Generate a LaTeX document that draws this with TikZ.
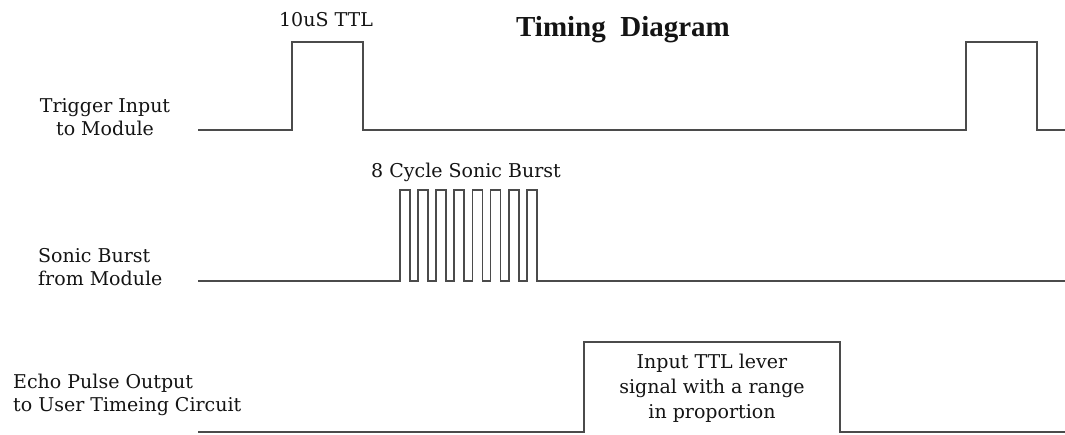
\documentclass[tikz,border=0pt]{standalone}
\usepackage{fontspec}
\setmainfont{DejaVu Serif}
\newfontfamily\titlefont{Liberation Serif}
\definecolor{sig}{RGB}{75,75,75}
\definecolor{txt}{RGB}{20,20,20}
\begin{document}
\begin{tikzpicture}[x=1pt,y=-1pt,
  signal/.style={draw=sig,line width=2pt,line join=miter},
  burst/.style={draw=sig,line width=1.8pt,line join=miter},
  lab/.style={inner sep=0pt,text=txt,font=\fontsize{19}{23}\selectfont},
  ttitle/.style={inner sep=0pt,text=txt,font=\titlefont\bfseries\fontsize{29}{30}\selectfont}]
\useasboundingbox (0,0) rectangle (1065,434);
\fill[white] (0,0) rectangle (1065,434);
% title and labels
\node[ttitle] (title) at (623,30) {Timing\ \ Diagram};
\node[lab] (ttl) at (326,20) {10uS TTL};
\node[lab,align=center] (trig) at (105,117) {Trigger Input\\to Module};
\node[lab,align=left,anchor=west] (sonic) at (38,267) {Sonic Burst\\from Module};
\node[lab] (burstlab) at (466,172) {8 Cycle Sonic Burst};
\node[lab,align=left,anchor=west] (echo) at (13,395) {Echo Pulse Output\\to User Timeing Circuit};
\node[lab,align=center,font=\fontsize{19}{25}\selectfont] (range) at (712,388) {Input TTL lever\\signal with a range\\in proportion};
% trigger signal
\draw[signal] (198,130) -- (292,130) -- (292,42) -- (363,42) -- (363,130)
  -- (966,130) -- (966,42) -- (1037,42) -- (1037,130) -- (1065,130);
% sonic burst
\draw[burst] (198,281) -- (400,281)
  \foreach \k in {1,...,8}{ -- ++(0,-91) -- ++(10,0) -- ++(0,91) -- ++(8.1,0)}
  -- (1065,281);
% echo pulse
\draw[signal] (198,432) -- (584,432) -- (584,342) -- (840,342) -- (840,432) -- (1065,432);
\end{tikzpicture}
\end{document}
